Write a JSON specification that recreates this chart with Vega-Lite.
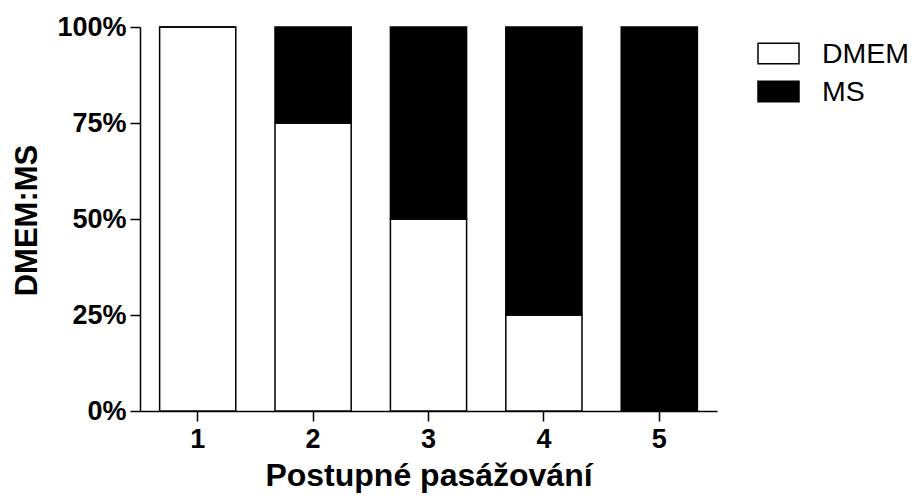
{
  "$schema": "https://vega.github.io/schema/vega-lite/v6.json",
  "width": 577,
  "height": 384,
  "autosize": "none",
  "padding": {"left": 140, "top": 27, "right": 200, "bottom": 88},
  "background": "white",
  "config": {
    "view": {"stroke": null},
    "font": "Liberation Sans"
  },
  "data": {
    "values": [
      {"passage": "1", "medium": "DMEM", "share": 1.0},
      {"passage": "1", "medium": "MS", "share": 0.0},
      {"passage": "2", "medium": "DMEM", "share": 0.75},
      {"passage": "2", "medium": "MS", "share": 0.25},
      {"passage": "3", "medium": "DMEM", "share": 0.5},
      {"passage": "3", "medium": "MS", "share": 0.5},
      {"passage": "4", "medium": "DMEM", "share": 0.25},
      {"passage": "4", "medium": "MS", "share": 0.75},
      {"passage": "5", "medium": "DMEM", "share": 0.0},
      {"passage": "5", "medium": "MS", "share": 1.0}
    ]
  },
  "mark": {"type": "bar", "stroke": "black", "strokeWidth": 1.5},
  "encoding": {
    "x": {
      "field": "passage",
      "type": "ordinal",
      "scale": {"paddingInner": 0.34, "paddingOuter": 0.17},
      "axis": {
        "title": "Postupné pasážování",
        "labelAngle": 0,
        "labelFont": "Liberation Sans",
        "labelFontWeight": "bold",
        "labelFontSize": 27,
        "labelColor": "black",
        "labelPadding": 5,
        "tickColor": "black",
        "tickSize": 10,
        "tickWidth": 1.5,
        "domainColor": "black",
        "domainWidth": 1.5,
        "titleFont": "Liberation Sans",
        "titleFontSize": 32,
        "titleFontWeight": "bold",
        "titleColor": "black",
        "titleBaseline": "alphabetic",
        "titleY": 74
      }
    },
    "y": {
      "field": "share",
      "type": "quantitative",
      "stack": "zero",
      "scale": {"domain": [0, 1]},
      "axis": {
        "title": "DMEM:MS",
        "values": [0, 0.25, 0.5, 0.75, 1],
        "format": ".0%",
        "grid": false,
        "labelFont": "Liberation Sans",
        "labelFontWeight": "bold",
        "labelFontSize": 27,
        "labelColor": "black",
        "labelPadding": 4,
        "tickColor": "black",
        "tickSize": 10,
        "tickWidth": 1.5,
        "domainColor": "black",
        "domainWidth": 1.5,
        "titleFont": "Liberation Sans",
        "titleFontSize": 31,
        "titleFontWeight": "bold",
        "titleColor": "black",
        "titleAngle": -90,
        "titleAlign": "center",
        "titleBaseline": "alphabetic",
        "titleX": -104,
        "titleY": 193
      }
    },
    "color": {
      "field": "medium",
      "type": "nominal",
      "scale": {"domain": ["DMEM", "MS"], "range": ["white", "black"]},
      "legend": {
        "title": null,
        "orient": "none",
        "legendX": 617,
        "legendY": 5,
        "symbolType": "M-1,-0.5H1V0.5H-1Z",
        "symbolSize": 1681,
        "symbolStrokeColor": "black",
        "symbolStrokeWidth": 1.5,
        "labelFont": "Liberation Sans",
        "labelFontSize": 28.5,
        "labelColor": "black",
        "labelOffset": 22,
        "rowPadding": 2
      }
    },
    "order": {"field": "medium", "sort": "ascending"}
  }
}
